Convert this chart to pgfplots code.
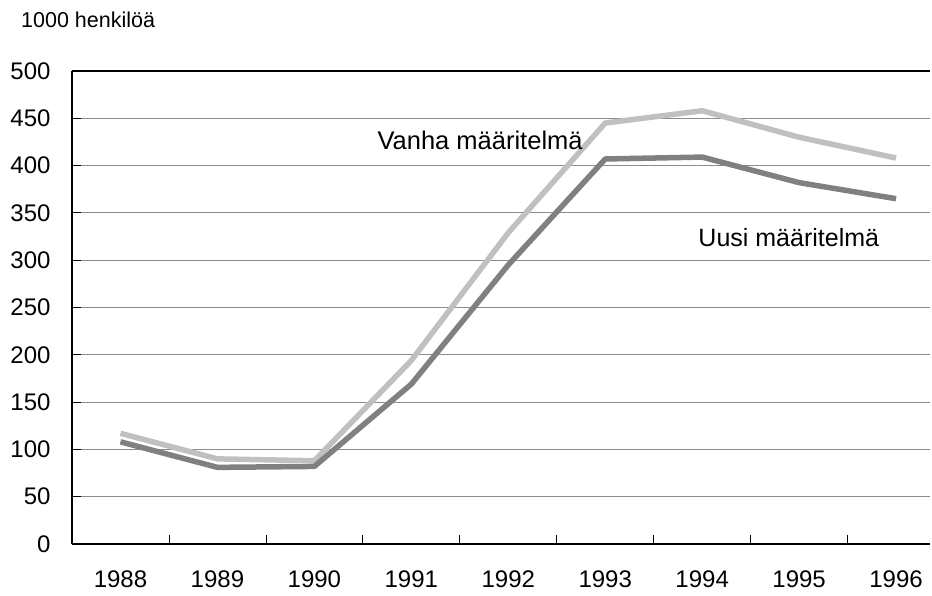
\documentclass[border=0pt]{standalone}
\usepackage{fontspec}
\setmainfont{Liberation Sans}
\usepackage{pgfplots}
\pgfplotsset{compat=1.18}
\definecolor{lightline}{HTML}{C0C0C0}
\definecolor{darkline}{HTML}{808080}
\definecolor{gridc}{HTML}{8C8C8C}
\begin{document}
\begin{tikzpicture}
\path[use as bounding box] (-72bp,-52bp) rectangle (860bp,544bp);
\begin{axis}[
  at={(0,0)}, anchor=south west,
  scale only axis,
  width=858bp, height=473bp,
  xmin=-0.5, xmax=8.35,
  ymin=0, ymax=500,
  axis x line=bottom, axis y line=left,
  axis line style={-, black, line width=1.3bp},
  xtick={0,...,8},
  xticklabels={1988,1989,1990,1991,1992,1993,1994,1995,1996},
  minor x tick num=1,
  major x tick style={draw=none},
  minor x tick style={black, line width=0.8bp},
  major tick length=9bp,
  minor tick length=9bp,
  ytick={0,50,...,450},
  extra y ticks={500},
  extra y tick style={grid style={black, line width=1.3bp}},
  ymajorgrids,
  grid style={gridc, line width=0.8bp},
  tick align=inside,
  y tick style={black, line width=0.8bp},
  tick label style={font=\fontsize{24bp}{29bp}\selectfont},
  /pgf/number format/assume math mode=true,
  xticklabel style={yshift=-23bp},
  yticklabel style={xshift=-18bp},
  clip=false,
]
\addplot[lightline, line width=5.5bp, line join=round] coordinates {
  (0,117) (1,90) (2,88) (3,194) (4,329) (5,445) (6,458) (7,430) (8,408)
};
\addplot[darkline, line width=5.5bp, line join=round] coordinates {
  (0,108) (1,81) (2,82) (3,169) (4,295) (5,407) (6,409) (7,382) (8,365)
};
\node[anchor=base west, inner sep=0pt, font=\fontsize{25.5bp}{30bp}\selectfont] at (axis cs:2.65,416.5) {Vanha määritelmä};
\node[anchor=base west, inner sep=0pt, font=\fontsize{25bp}{30bp}\selectfont] at (axis cs:5.96,314) {Uusi määritelmä};
\end{axis}
\node[anchor=base west, inner sep=0pt, font=\fontsize{21.5bp}{26bp}\selectfont] at (-51bp,516bp) {1000 henkilöä};
\end{tikzpicture}
\end{document}
